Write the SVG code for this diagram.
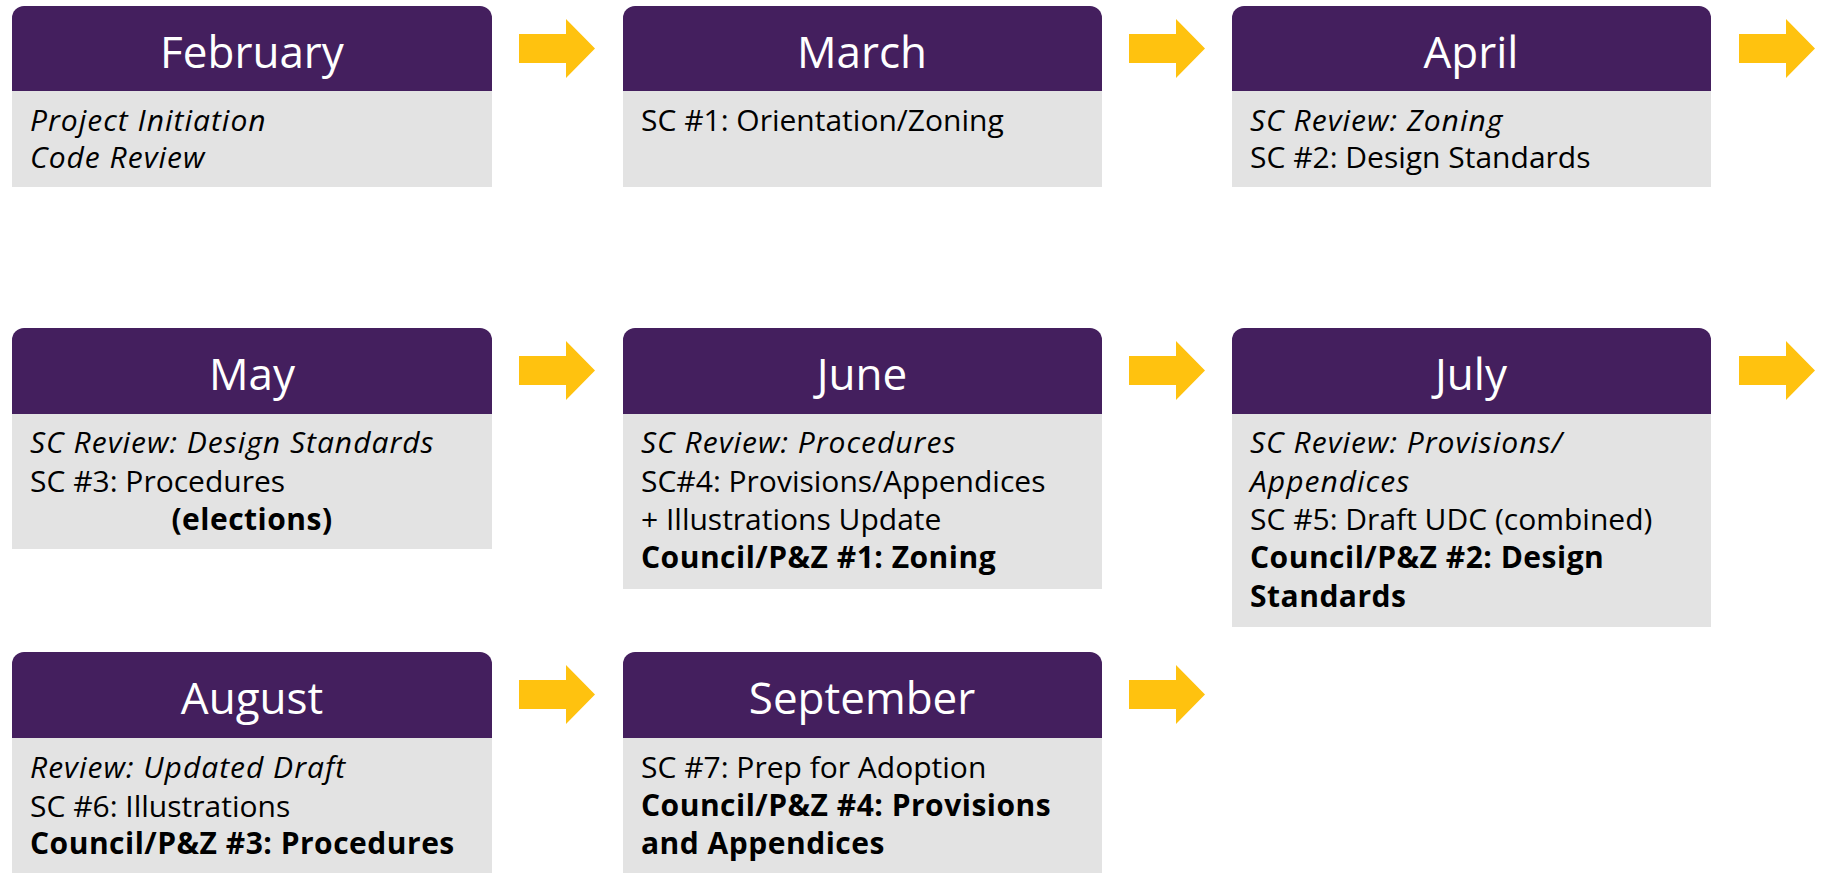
<svg xmlns="http://www.w3.org/2000/svg" width="1825" height="873" viewBox="0 0 1825 873">
<defs>
<style>
.hdr{fill:#441F5E}
.bdy{fill:#E3E3E3}
.ttl{font-family:"Open Sans","Noto Sans",sans-serif;font-size:44px;fill:#FFFFFF;text-anchor:middle}
.t{font-family:"Open Sans","Noto Sans",sans-serif;font-size:30px;fill:#000000}
.i{font-style:italic;letter-spacing:1px}
.b{font-weight:bold;letter-spacing:0.5px}
.arr{fill:#FFC20F}
</style>
</defs>
<rect width="1825" height="873" fill="#FFFFFF"/>

<g id="connectors">
<polygon class="arr" points="519,34 566,34 566,19 595,48.5 566,78 566,63 519,63"/>
<polygon class="arr" points="1129,34 1176,34 1176,19 1205,48.5 1176,78 1176,63 1129,63"/>
<polygon class="arr" points="1739,34 1786,34 1786,19 1815,48.5 1786,78 1786,63 1739,63"/>
<polygon class="arr" points="519,356 566,356 566,341 595,370.5 566,400 566,385 519,385"/>
<polygon class="arr" points="1129,356 1176,356 1176,341 1205,370.5 1176,400 1176,385 1129,385"/>
<polygon class="arr" points="1739,356 1786,356 1786,341 1815,370.5 1786,400 1786,385 1739,385"/>
<polygon class="arr" points="519,680 566,680 566,665 595,694.5 566,724 566,709 519,709"/>
<polygon class="arr" points="1129,680 1176,680 1176,665 1205,694.5 1176,724 1176,709 1129,709"/>
</g>

<g id="february">
<path class="hdr" d="M12,91 V18 A12,12 0 0 1 24,6 H480 A12,12 0 0 1 492,18 V91 Z"/>
<rect class="bdy" x="12" y="91" width="480" height="96"/>
<text class="ttl" x="252" y="68">February</text>
<text class="t i" x="30" y="131">Project Initiation</text>
<text class="t i" x="30" y="168">Code Review</text>
</g>

<g id="march">
<path class="hdr" d="M623,91 V18 A12,12 0 0 1 635,6 H1090 A12,12 0 0 1 1102,18 V91 Z"/>
<rect class="bdy" x="623" y="91" width="479" height="96"/>
<text class="ttl" x="862" y="68">March</text>
<text class="t" x="641" y="131">SC #1: Orientation/Zoning</text>
</g>

<g id="april">
<path class="hdr" d="M1232,91 V18 A12,12 0 0 1 1244,6 H1699 A12,12 0 0 1 1711,18 V91 Z"/>
<rect class="bdy" x="1232" y="91" width="479" height="96"/>
<text class="ttl" x="1471" y="68">April</text>
<text class="t i" x="1250" y="131">SC Review: Zoning</text>
<text class="t" x="1250" y="168">SC #2: Design Standards</text>
</g>

<g id="may">
<path class="hdr" d="M12,414 V340 A12,12 0 0 1 24,328 H480 A12,12 0 0 1 492,340 V414 Z"/>
<rect class="bdy" x="12" y="414" width="480" height="135"/>
<text class="ttl" x="252" y="390">May</text>
<text class="t i" x="30" y="453">SC Review: Design Standards</text>
<text class="t" x="30" y="492">SC #3: Procedures</text>
<text class="t b" x="252" y="530" text-anchor="middle">(elections)</text>
</g>

<g id="june">
<path class="hdr" d="M623,414 V340 A12,12 0 0 1 635,328 H1090 A12,12 0 0 1 1102,340 V414 Z"/>
<rect class="bdy" x="623" y="414" width="479" height="175"/>
<text class="ttl" x="862" y="390">June</text>
<text class="t i" x="641" y="453">SC Review: Procedures</text>
<text class="t" x="641" y="492">SC#4: Provisions/Appendices</text>
<text class="t" x="641" y="530">+ Illustrations Update</text>
<text class="t b" x="641" y="568">Council/P&amp;Z #1: Zoning</text>
</g>

<g id="july">
<path class="hdr" d="M1232,414 V340 A12,12 0 0 1 1244,328 H1699 A12,12 0 0 1 1711,340 V414 Z"/>
<rect class="bdy" x="1232" y="414" width="479" height="213"/>
<text class="ttl" x="1471" y="390">July</text>
<text class="t i" x="1250" y="453">SC Review: Provisions/</text>
<text class="t i" x="1250" y="492">Appendices</text>
<text class="t" x="1250" y="530">SC #5: Draft UDC (combined)</text>
<text class="t b" x="1250" y="568">Council/P&amp;Z #2: Design</text>
<text class="t b" x="1250" y="607">Standards</text>
</g>

<g id="august">
<path class="hdr" d="M12,738 V664 A12,12 0 0 1 24,652 H480 A12,12 0 0 1 492,664 V738 Z"/>
<rect class="bdy" x="12" y="738" width="480" height="135"/>
<text class="ttl" x="252" y="714">August</text>
<text class="t i" x="30" y="778">Review: Updated Draft</text>
<text class="t" x="30" y="817">SC #6: Illustrations</text>
<text class="t b" x="30" y="854">Council/P&amp;Z #3: Procedures</text>
</g>

<g id="september">
<path class="hdr" d="M623,738 V664 A12,12 0 0 1 635,652 H1090 A12,12 0 0 1 1102,664 V738 Z"/>
<rect class="bdy" x="623" y="738" width="479" height="135"/>
<text class="ttl" x="862" y="714">September</text>
<text class="t" x="641" y="778">SC #7: Prep for Adoption</text>
<text class="t b" x="641" y="816">Council/P&amp;Z #4: Provisions</text>
<text class="t b" x="641" y="854">and Appendices</text>
</g>
</svg>
